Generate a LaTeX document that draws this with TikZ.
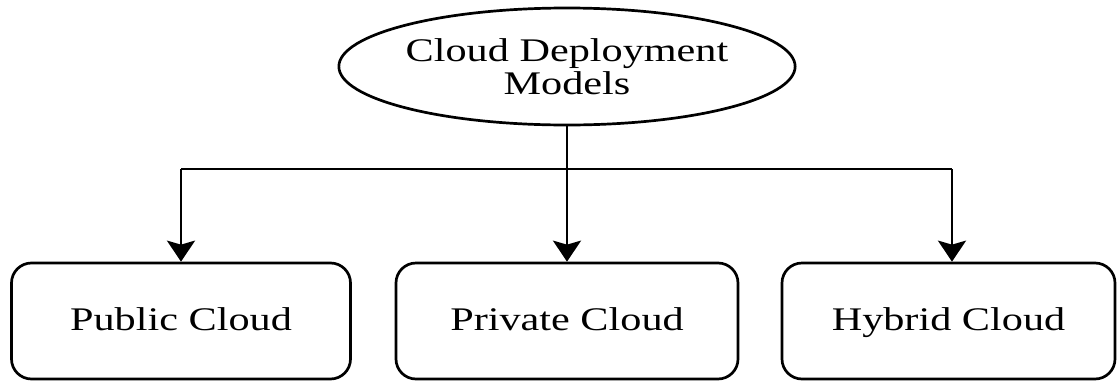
\documentclass[tikz,border=0pt]{standalone}
\usepackage{fontspec}
\setmainfont{Liberation Serif}
\usetikzlibrary{shapes.geometric,arrows.meta}
\tikzset{
  ln/.style={line width=2.7pt},
  boxnode/.style={ln, draw, rounded corners=20pt, minimum height=116pt, inner sep=0pt,
    text height=25pt, text depth=7pt, font=\fontsize{33}{36}\selectfont},
  topnode/.style={ln, draw, ellipse, minimum width=372pt, minimum height=117pt, inner sep=0pt,
    align=center, font=\fontsize{33}{35}\selectfont},
  arr/.style={ln, -{Stealth[length=21pt,width=28pt,inset=4pt]}}
}
\newcommand{\sx}[1]{\scalebox{1.28}[1]{#1}}
\begin{document}
\begin{tikzpicture}[x=1pt,y=1pt]
\useasboundingbox (0,0) rectangle (1117,-381);
\node[topnode] (top) at (567,-66.5) {\sx{Cloud Deployment}\\[-2pt]\sx{Models}};
\node[boxnode, minimum width=339pt] (pub) at (181,-321) {\sx{Public Cloud}};
\node[boxnode, minimum width=342pt] (pri) at (567,-321) {\sx{Private Cloud}};
\node[boxnode, minimum width=333pt] (hyb) at (948.5,-321) {\sx{Hybrid Cloud}};
\coordinate (jl) at (181,-169);
\coordinate (jr) at (952,-169);
\draw[ln] (jl) -- (jr);
\draw[arr] (top.south) -- (pri.north);
\draw[arr] (jl) -- (pub.north);
\draw[arr] (jr) -- (jr |- hyb.north);
\end{tikzpicture}
\end{document}
